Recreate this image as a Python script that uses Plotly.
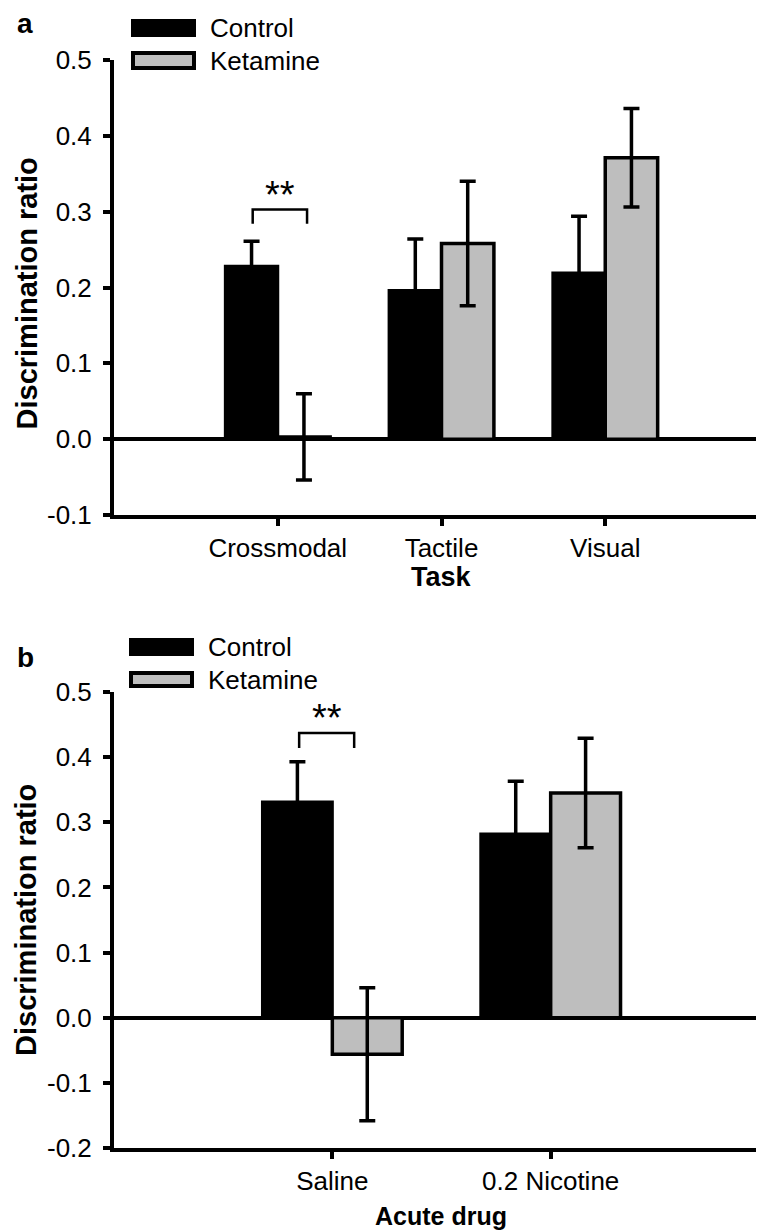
import plotly.graph_objects as go

# ---------------- data ----------------
tasks = ["Crossmodal", "Tactile", "Visual"]
a_control = [0.228, 0.196, 0.219]
a_control_err = [0.033, 0.068, 0.075]
a_ketamine = [0.003, 0.258, 0.371]
a_ketamine_err = [0.057, 0.082, 0.065]

drugs = ["Saline", "0.2 Nicotine"]
b_control = [0.331, 0.282]
b_control_err = [0.062, 0.081]
b_ketamine = [-0.056, 0.345]
b_ketamine_err = [0.102, 0.084]

a_yticks = [-0.1, 0.0, 0.1, 0.2, 0.3, 0.4, 0.5]
a_yticktext = ["-0.1", "0.0", "0.1", "0.2", "0.3", "0.4", "0.5"]
b_yticks = [-0.2, -0.1, 0.0, 0.1, 0.2, 0.3, 0.4, 0.5]
b_yticktext = ["-0.2", "-0.1", "0.0", "0.1", "0.2", "0.3", "0.4", "0.5"]

# significance brackets: [x0, x1] (category units), [y_low, y_high], star level
a_sig_x = [-0.153, 0.179]
a_sig_y = [0.284, 0.303]
a_sig_star_y = 0.322
b_sig_x = [-0.152, 0.10]
b_sig_y = [0.414, 0.437]
b_sig_star_y = 0.460

series_names = ["Control", "Ketamine"]

# ---------------- styling ----------------
W, H = 764, 1231
BLACK = "#000000"
GRAY = "#bebebe"
FONT = "Liberation Sans, Arial, sans-serif"


def px(x):
    return x / W


def py(y):
    return 1 - y / H


fig = go.Figure()


def add_bars(cats, ctrl, ctrl_err, ket, ket_err, xa, ya):
    fig.add_trace(go.Bar(
        x=cats, y=ctrl, name=series_names[0], xaxis=xa, yaxis=ya,
        marker=dict(color=BLACK, line=dict(color=BLACK, width=3)),
        error_y=dict(type="data", array=ctrl_err, visible=True,
                     color=BLACK, thickness=3.5, width=8),
        showlegend=False,
    ))
    fig.add_trace(go.Bar(
        x=cats, y=ket, name=series_names[1], xaxis=xa, yaxis=ya,
        marker=dict(color=GRAY, line=dict(color=BLACK, width=3.5)),
        error_y=dict(type="data", array=ket_err, visible=True,
                     color=BLACK, thickness=3.5, width=8),
        showlegend=False,
    ))


add_bars(tasks, a_control, a_control_err, a_ketamine, a_ketamine_err, "x", "y")
add_bars(drugs, b_control, b_control_err, b_ketamine, b_ketamine_err, "x2", "y2")

xdom = [px(106), px(761)]
ydom_a = [py(507), py(52)]
ydom_b = [py(1140), py(684)]

axis_common = dict(
    showline=True, linecolor=BLACK, linewidth=4,
    ticks="outside", ticklen=7, tickwidth=3.5, tickcolor=BLACK,
    showgrid=False,
    tickfont=dict(family=FONT, size=26, color=BLACK),
    automargin=False, fixedrange=True,
)

fig.update_layout(
    width=W, height=H,
    margin=dict(l=0, r=0, t=0, b=0),
    paper_bgcolor="white", plot_bgcolor="white",
    barmode="group", bargap=0.36, bargroupgap=0.0,
    font=dict(family=FONT, color=BLACK),
    xaxis=dict(domain=xdom, anchor="y", type="category",
               range=[-1, 3], zeroline=False, **axis_common),
    yaxis=dict(domain=ydom_a, anchor="x", range=[-0.1, 0.5],
               tickvals=a_yticks, ticktext=a_yticktext, ticklabelstandoff=6,
               zeroline=True, zerolinecolor=BLACK, zerolinewidth=4,
               **axis_common),
    xaxis2=dict(domain=xdom, anchor="y2", type="category",
                range=[-1, 2], zeroline=False, **axis_common),
    yaxis2=dict(domain=ydom_b, anchor="x2", range=[-0.2, 0.5],
                tickvals=b_yticks, ticktext=b_yticktext, ticklabelstandoff=6,
                zeroline=True, zerolinecolor=BLACK, zerolinewidth=4,
                **axis_common),
)

shapes = []
annotations = []

# significance brackets
for (sx, sy, star_y, xr, yr) in [
    (a_sig_x, a_sig_y, a_sig_star_y, "x", "y"),
    (b_sig_x, b_sig_y, b_sig_star_y, "x2", "y2"),
]:
    path = (f"M {sx[0]},{sy[0]} L {sx[0]},{sy[1]} "
            f"L {sx[1]},{sy[1]} L {sx[1]},{sy[0]}")
    shapes.append(dict(type="path", path=path, xref=xr, yref=yr,
                       line=dict(color=BLACK, width=2.5)))
    annotations.append(dict(x=(sx[0] + sx[1]) / 2, y=star_y, xref=xr, yref=yr,
                            text="**", showarrow=False,
                            font=dict(family=FONT, size=38, color=BLACK),
                            xanchor="center", yanchor="middle"))

# legends (manual, matching the original boxes)
for (top1, bot1, top2, bot2, x0, x1) in [
    (11, 29, 43, 62, 123, 188),
    (630, 648, 663, 680, 121, 186),
]:
    shapes.append(dict(type="rect", xref="paper", yref="paper",
                       x0=px(x0), x1=px(x1), y0=py(bot1), y1=py(top1),
                       fillcolor=BLACK, line=dict(color=BLACK, width=0)))
    shapes.append(dict(type="rect", xref="paper", yref="paper",
                       x0=px(x0 + 2), x1=px(x1 - 2), y0=py(bot2 - 2), y1=py(top2 + 2),
                       fillcolor=GRAY, line=dict(color=BLACK, width=4)))
    annotations.append(dict(x=px(x1 + 12), y=py((top1 + bot1) / 2), xref="paper", yref="paper",
                            text=series_names[0], showarrow=False, xanchor="left", yanchor="middle",
                            font=dict(family=FONT, size=26, color=BLACK)))
    annotations.append(dict(x=px(x1 + 12), y=py((top2 + bot2) / 2), xref="paper", yref="paper",
                            text=series_names[1], showarrow=False, xanchor="left", yanchor="middle",
                            font=dict(family=FONT, size=26, color=BLACK)))

# panel letters
annotations.append(dict(x=px(7), y=py(16), xref="paper", yref="paper", text="<b>a</b>",
                        showarrow=False, xanchor="left", yanchor="middle",
                        font=dict(family=FONT, size=28, color=BLACK)))
annotations.append(dict(x=px(7), y=py(649), xref="paper", yref="paper", text="<b>b</b>",
                        showarrow=False, xanchor="left", yanchor="middle",
                        font=dict(family=FONT, size=28, color=BLACK)))

# axis titles
annotations.append(dict(x=px(433), y=py(569), xref="paper", yref="paper", text="<b>Task</b>",
                        showarrow=False, xanchor="center", yanchor="middle",
                        font=dict(family=FONT, size=27, color=BLACK)))
annotations.append(dict(x=px(433), y=py(1208), xref="paper", yref="paper", text="<b>Acute drug</b>",
                        showarrow=False, xanchor="center", yanchor="middle",
                        font=dict(family=FONT, size=25, color=BLACK)))
for yc in [(52 + 507) / 2 + 6, (684 + 1140) / 2]:
    annotations.append(dict(x=px(18), y=py(yc), xref="paper", yref="paper",
                            text="<b>Discrimination ratio</b>", textangle=-90,
                            showarrow=False, xanchor="center", yanchor="middle",
                            font=dict(family=FONT, size=29, color=BLACK)))

fig.update_layout(shapes=shapes, annotations=annotations)

fig.write_html("out.html")
